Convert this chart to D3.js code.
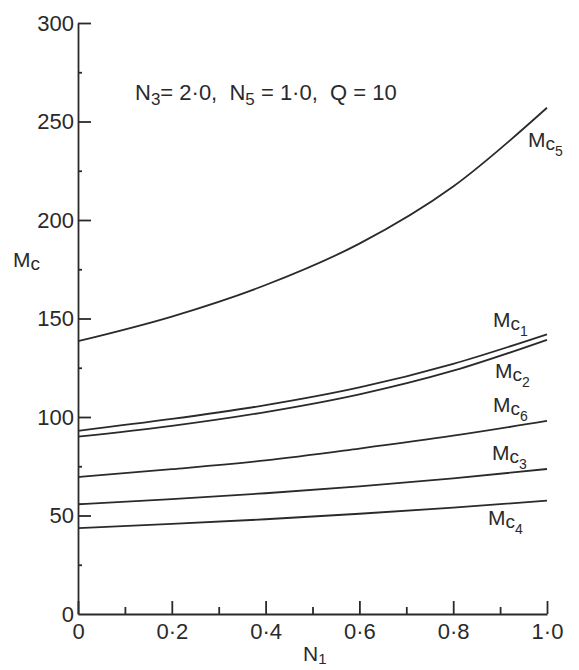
<!DOCTYPE html>
<html>
<head>
<meta charset="utf-8">
<script src="https://cdn.jsdelivr.net/npm/d3@7"></script>
<style>
  body { margin: 0; background: #fff; }
  text { font-family: "Liberation Sans", Arial, sans-serif; fill: #2a2a2a; }
</style>
</head>
<body>
<div id="chart"></div>
<script>
const n1Values = [0, 0.2, 0.4, 0.6, 0.8, 1.0];

// Mc series
const mc5 = [138.5, 151, 167, 188, 217, 257];
const mc1 = [93, 99, 106, 115, 127, 142];
const mc2 = [90, 95.5, 102.5, 111.5, 123.5, 139.2];
const mc6 = [69.5, 73.5, 78, 84, 90.5, 98];
const mc3 = [55.7, 58.3, 61.3, 64.8, 68.8, 73.6];
const mc4 = [43.6, 45.7, 48.1, 50.9, 54, 57.5];

const seriesNames = ["5", "1", "2", "6", "3", "4"];
const seriesValues = [mc5, mc1, mc2, mc6, mc3, mc4];

// Tick values
const xMajorTicks = [0, 0.2, 0.4, 0.6, 0.8, 1.0];
const xMinorTicks = [0.1, 0.3, 0.5, 0.7, 0.9];
const yMajorTicks = [0, 50, 100, 150, 200, 250, 300];
const yMinorTicks = [25, 75, 125, 175, 225, 275];

// Label offsets from each curve's right end (same order as seriesNames)
const labelOffsets = [[-19, 39], [-54, -7], [-52, 38], [-54, -9], [-55, -9], [-59, 24]];

const width = 579, height = 670;
const margin = { top: 23, left: 78, right: 32, bottom: 56 };

const svg = d3.select("#chart")
  .append("svg")
  .attr("width", width)
  .attr("height", height);

const x = d3.scaleLinear()
  .domain([0, 1])
  .range([margin.left, width - margin.right]);

const y = d3.scaleLinear()
  .domain([0, 300])
  .range([height - margin.bottom, margin.top]);

const fmt = d => d === 0 ? "0" : d.toFixed(1).replace(".", "\u00b7");

// x axis, ticks pointing up
const xAxis = svg.append("g")
  .attr("transform", "translate(0," + y(0) + ")")
  .call(d3.axisBottom(x).tickValues(xMajorTicks).tickFormat(fmt)
    .tickSizeInner(-13).tickSizeOuter(0).tickPadding(9));

svg.append("g")
  .attr("transform", "translate(0," + y(0) + ")")
  .call(d3.axisBottom(x).tickValues(xMinorTicks).tickFormat("")
    .tickSizeInner(-7).tickSizeOuter(0))
  .select(".domain").remove();

// y axis, ticks pointing right
const yAxis = svg.append("g")
  .attr("transform", "translate(" + x(0) + ",0)")
  .call(d3.axisLeft(y).tickValues(yMajorTicks).tickFormat(d3.format("d"))
    .tickSizeInner(-13).tickSizeOuter(0).tickPadding(4));

yAxis.selectAll(".tick").filter(d => d === 0).select("line").remove();

svg.append("g")
  .attr("transform", "translate(" + x(0) + ",0)")
  .call(d3.axisLeft(y).tickValues(yMinorTicks).tickFormat("")
    .tickSizeInner(-4).tickSizeOuter(0))
  .select(".domain").remove();

svg.selectAll(".domain, .tick line")
  .attr("stroke", "#2a2a2a")
  .attr("stroke-width", 1.8);

svg.selectAll(".tick text")
  .style("font-size", "22px")
  .attr("fill", "#2a2a2a");

// curves
const line = d3.line()
  .x((d, i) => x(n1Values[i]))
  .y(d => y(d))
  .curve(d3.curveMonotoneX);

svg.selectAll(".curve")
  .data(seriesValues)
  .join("path")
  .attr("class", "curve")
  .attr("d", d => line(d))
  .attr("fill", "none")
  .attr("stroke", "#2a2a2a")
  .attr("stroke-width", 1.8);

// curve labels: M with subscript c and a further subscript digit
function mcLabel(g, digit) {
  g.append("tspan").text("M").style("font-size", "21px");
  g.append("tspan").text("c").style("font-size", "19px").attr("dy", 3);
  if (digit) g.append("tspan").text(digit).style("font-size", "14px").attr("dy", 6);
}

seriesValues.forEach((vals, i) => {
  const t = svg.append("text")
    .attr("x", x(1) + labelOffsets[i][0])
    .attr("y", y(vals[vals.length - 1]) + labelOffsets[i][1]);
  mcLabel(t, seriesNames[i]);
});

// y axis title
const yTitle = svg.append("text")
  .attr("x", 13)
  .attr("y", 267);
mcLabel(yTitle, null);

// x axis title
const xTitle = svg.append("text")
  .attr("x", 303)
  .attr("y", 661);
xTitle.append("tspan").text("N").style("font-size", "21px");
xTitle.append("tspan").text("1").style("font-size", "15px").attr("dy", 3);

// parameter note
const note = svg.append("text")
  .attr("x", 135)
  .attr("y", 100)
  .style("font-size", "22px")
  .style("white-space", "pre");
note.append("tspan").text("N");
note.append("tspan").text("3").style("font-size", "17px").attr("dy", 5);
note.append("tspan").text("= 2\u00b70,  N").attr("dy", -5);
note.append("tspan").text("5").style("font-size", "17px").attr("dy", 5);
note.append("tspan").text(" = 1\u00b70,  Q = 10").attr("dy", -5);
</script>
</body>
</html>
